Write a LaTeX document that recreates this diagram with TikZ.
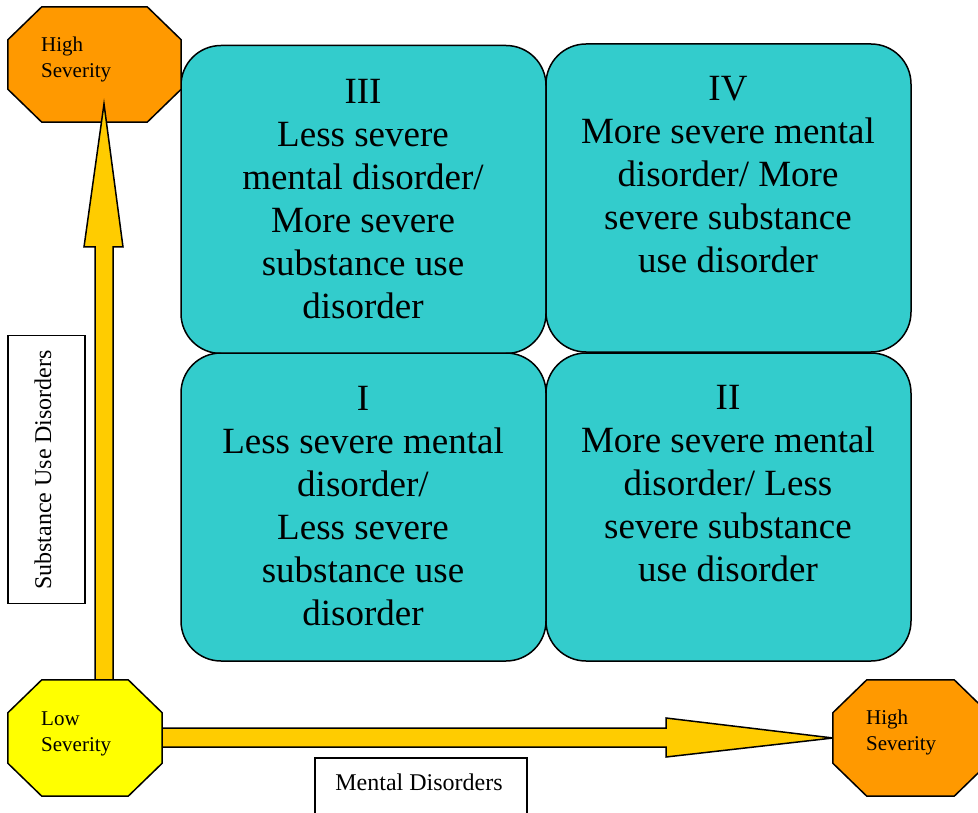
\documentclass[tikz,border=0pt]{standalone}
\usepackage{fontspec}
\setmainfont{Liberation Serif}
\definecolor{quadfill}{HTML}{33CCCC}
\definecolor{hifill}{HTML}{FF9900}
\definecolor{lowfill}{HTML}{FFFF00}
\definecolor{arrowfill}{HTML}{FFCC00}
\newcommand\octagonof[2]{%
  \draw[octline, fill=#2] ([xshift=34pt]#1.north west) -- ([xshift=-34pt]#1.north east)
    -- ([yshift=-33pt]#1.north east) -- ([yshift=33pt]#1.south east)
    -- ([xshift=-34pt]#1.south east) -- ([xshift=34pt]#1.south west)
    -- ([yshift=33pt]#1.south west) -- ([yshift=-33pt]#1.north west) -- cycle;}
\begin{document}
\begin{tikzpicture}[x=1pt,y=-1pt,
  quad/.style={draw, line width=1.5pt, fill=quadfill, rounded corners=40pt, inner sep=0pt, minimum width=365pt, minimum height=308pt},
  octa/.style={rectangle, inner sep=0pt, minimum height=116pt},
  octline/.style={line width=1.5pt, line join=miter},
  blockarrow/.style={draw, line width=1.5pt, fill=arrowfill, line join=miter},
  bigtext/.style={font=\fontsize{37}{43}\selectfont, align=center, inner sep=0pt},
  octtext/.style={font=\fontsize{21}{26}\selectfont, align=left, anchor=north west, inner sep=0pt},
  labelbox/.style={draw, line width=1.5pt, inner sep=0pt, fill=white},
  labeltext/.style={font=\fontsize{24}{29}\selectfont, inner sep=0pt}]
\useasboundingbox (0,0) rectangle (978,813);
\clip (0,0) rectangle (978,813);

% quadrants
\node[quad] (q3) at (363.5,199.5) {};
\node[quad] (q4) at (728.5,198) {};
\node[quad] (q1) at (363.5,507) {};
\node[quad] (q2) at (728.5,507) {};
\node[bigtext] (t3) at (363,199) {III\\Less severe\\mental disorder/\\More severe\\substance use\\disorder};
\node[bigtext] (t4) at (728,175) {IV\\More severe mental\\disorder/ More\\severe substance\\use disorder};
\node[bigtext] (t1) at (363,506) {I\\Less severe mental\\disorder/\\Less severe\\substance use\\disorder};
\node[bigtext] (t2) at (728,484) {II\\More severe mental\\disorder/ Less\\severe substance\\use disorder};

% high severity (substance)
\node[octa, minimum width=173pt, minimum height=115pt] (hs1) at (94.5,64.5) {};
\octagonof{hs1}{hifill}
\node[octtext] (hs1t) at (41,37) {High\\Severity};

% arrows
\coordinate (vtip) at (104,104);
\coordinate (htip) at (833,738);
\draw[blockarrow] (95,680) -- (95,247) -- (84,247) -- (vtip) -- (123,247) -- (113,247) -- (113,680) -- cycle;
\draw[blockarrow] (162,728) -- (666,728) -- (666,718) -- (htip) -- (666,757) -- (666,747) -- (162,747) -- cycle;

% low severity
\node[octa, minimum width=154pt] (low) at (85,738) {};
\octagonof{low}{lowfill}
\node[octtext] (lowt) at (41,712) {Low\\Severity};

% high severity (mental)
\node[octa, minimum width=155pt] (hs2) at (910.5,738) {};
\octagonof{hs2}{hifill}
\node[octtext] (hs2t) at (866,710) {High\\Severity};

% axis labels
\node[labelbox, minimum width=77pt, minimum height=268pt] (subbox) at (46.5,469.5) {};
\node[labeltext, rotate=90] (subtext) at (43,470) {Substance Use Disorders};
\node[labelbox, minimum width=212pt, minimum height=80pt, anchor=north] (mdbox) at (421,757) {};
\node[labeltext] (mdtext) at (419,782) {Mental Disorders};
\end{tikzpicture}
\end{document}
